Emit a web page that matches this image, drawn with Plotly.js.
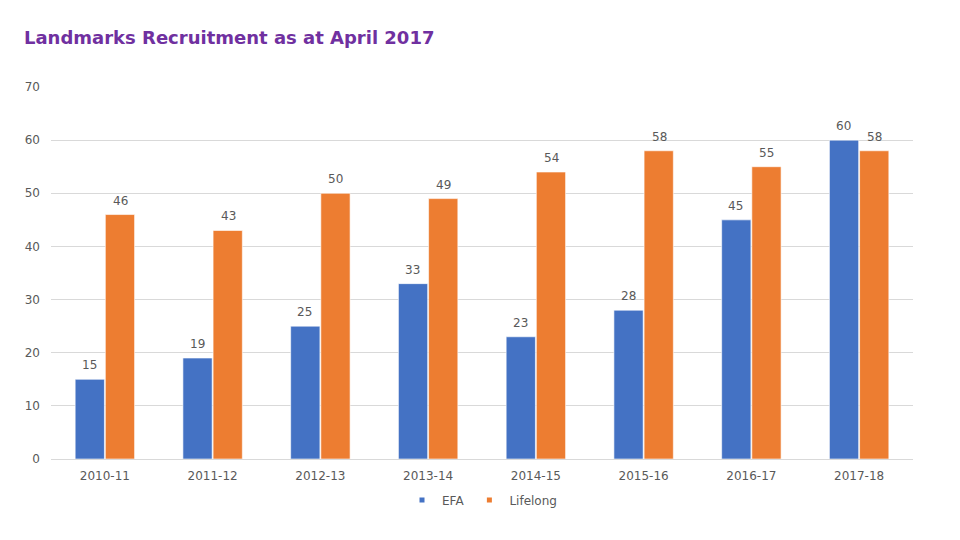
<!DOCTYPE html>
<html><head><meta charset="utf-8">
<script src="https://cdn.plot.ly/plotly-3.0.1.min.js"></script>
<style>html,body{margin:0;padding:0;background:#fff}</style>
</head><body><div id="chart" style="width:960px;height:540px"></div>
<script>
const categories = ['2010-11','2011-12','2012-13','2013-14','2014-15','2015-16','2016-17','2017-18'];
const efa = [15,19,25,33,23,28,45,60];
const lifelong = [46,43,50,49,54,58,55,58];
const yTicks = [0,10,20,30,40,50,60,70];
const seriesNames = ['EFA','Lifelong'];
const seriesColors = ['#4472C4','#ED7D31'];

const tickFont = {family:'DejaVu Sans, Verdana, sans-serif', size:12, color:'#595959'};
const seriesData = [efa, lifelong];
const traces = [];
seriesData.forEach((vals, i) => {
  traces.push({type:'bar', name:seriesNames[i], x:categories, y:vals, showlegend:false,
    marker:{color:seriesColors[i], line:{color:'#ffffff', width:0.6}}, hoverinfo:'x+y'});
});
// legend entries with small square markers
seriesData.forEach((vals, i) => {
  traces.push({type:'scatter', mode:'markers', name:seriesNames[i], x:[null], y:[null],
    marker:{symbol:'square', size:5, color:seriesColors[i]}, showlegend:true});
});
const annotations = [];
seriesData.forEach((vals, i) => {
  vals.forEach((v, j) => {
    annotations.push({x:categories[j], y:v, xref:'x', yref:'y', text:String(v), showarrow:false,
      xshift:(i === 0 ? -15.5 : 15.5), yshift:14, yanchor:'middle', font:tickFont});
  });
});
const layout = {
  width:960, height:540,
  margin:{l:51, r:47, t:87, b:81},
  paper_bgcolor:'#ffffff', plot_bgcolor:'#ffffff',
  title:{text:'<b>Landmarks Recruitment as at April 2017</b>', x:24/960, xanchor:'left', y:1-38/540, yanchor:'middle',
    font:{family:'DejaVu Sans, Verdana, sans-serif', size:18, color:'#7030A0'}},
  barmode:'group', bargap:0.44, bargroupgap:0.03,
  xaxis:{type:'category', tickfont:tickFont, showgrid:false, showline:false, ticks:'', ticklabelstandoff:8},
  yaxis:{range:[0,70], tickvals:yTicks, tickfont:tickFont, showgrid:true, gridcolor:'#d9d9d9', gridwidth:1,
    zeroline:true, zerolinecolor:'#d9d9d9', showline:false, ticks:'', ticklabelstandoff:10},
  legend:{orientation:'h', x:0.5, xanchor:'center', y:-0.11, yanchor:'middle', font:tickFont, itemwidth:30, tracegroupgap:0},
  annotations:annotations,
  showlegend:true
};
Plotly.newPlot('chart', traces, layout, {displayModeBar:false, staticPlot:true});
</script></body></html>
